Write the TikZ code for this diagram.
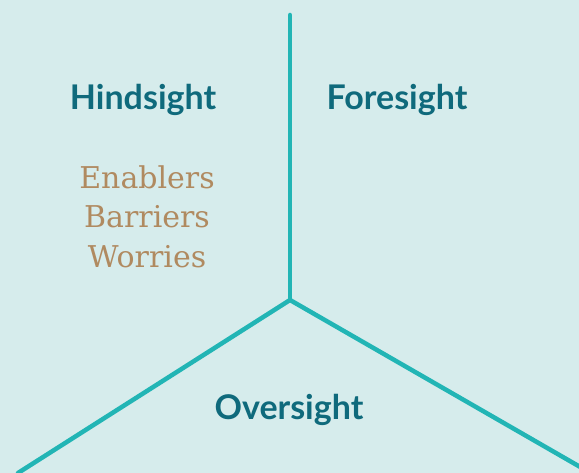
\documentclass[tikz,border=0pt]{standalone}
\usepackage{fontspec}
\setmainfont{Lato}
\newfontfamily\slabfont{DejaVu Serif}
\definecolor{bg}{HTML}{D6ECEC}
\definecolor{lin}{HTML}{22B5B5}
\definecolor{teal}{HTML}{0F6A7C}
\definecolor{brn}{HTML}{B08A60}
\begin{document}
\begin{tikzpicture}[x=1pt,y=-1pt,
  sight/.style={text=teal,font=\bfseries\fontsize{34}{38}\selectfont},
  item/.style={text=brn,font=\slabfont\fontsize{30}{36}\selectfont},
  spoke/.style={draw=lin,line width=4.5pt,line cap=round}]
\fill[bg] (0,0) rectangle (579,473);
\useasboundingbox (0,0) rectangle (579,473);
\coordinate (c) at (290,300);
\coordinate (t) at (290,15);
\coordinate (l) at (18,473);
\coordinate (r) at (582,468);
\draw[spoke] (t) -- (c);
\draw[spoke] (c) -- (l);
\draw[spoke] (c) -- (r);
\node[sight] (hind) at (143,100) {Hindsight};
\node[sight] (fore) at (397,100) {Foresight};
\node[sight] (over) at (289,410) {Oversight};
\node[item] (en) at (147,177) {Enablers};
\node[item] (ba) at (147,217) {Barriers};
\node[item] (wo) at (147,257) {Worries};
\end{tikzpicture}
\end{document}
